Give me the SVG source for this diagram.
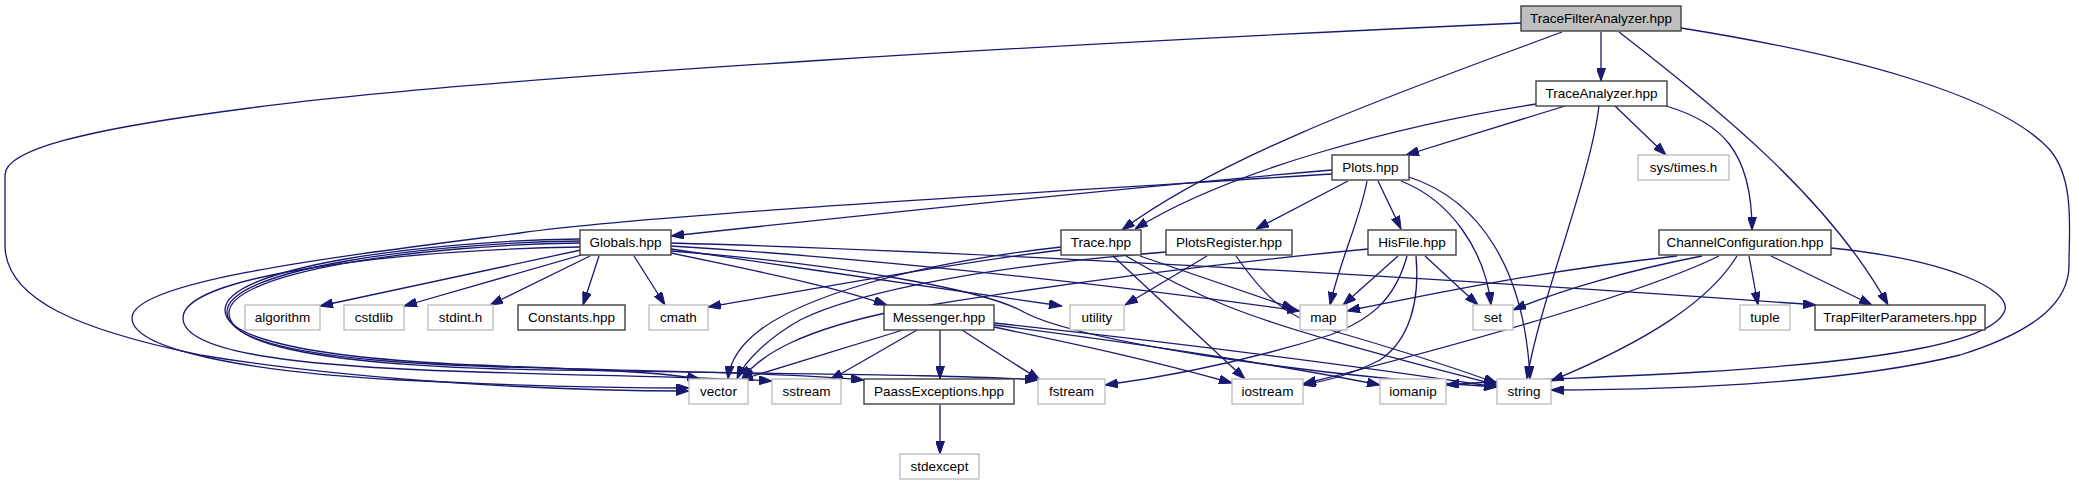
<svg xmlns="http://www.w3.org/2000/svg" width="2079" height="485" viewBox="0 0 2079 485">
<style>
.e{fill:none;stroke:#191970;stroke-width:1.3;marker-end:url(#ah)}
.d rect{fill:#fff;stroke:#404040;stroke-width:1.4}
.u rect{fill:#fff;stroke:#bfbfbf;stroke-width:1.4}
.r rect{fill:#bfbfbf;stroke:#404040;stroke-width:1.4}
text{font-family:"Liberation Sans",Arial,sans-serif;font-size:13.5px;fill:#000;text-anchor:middle}
</style>
<defs>
<marker id="ah" viewBox="0 0 13 9" refX="13" refY="4.5" markerWidth="13" markerHeight="9" markerUnits="userSpaceOnUse" orient="auto">
<path d="M0,0 L13,4.5 L0,9 z" fill="#191970" stroke="#191970" stroke-width="1"/>
</marker>
</defs>
<rect width="2079" height="485" fill="#fff"/>
<g id="edges">
<path class="e" d="M1601,32 L1601,81"/>
<path class="e" d="M1562,32 C1420,85 1230,150 1122,230"/>
<path class="e" d="M1619,32 C1720,110 1830,200 1888,305"/>
<path class="e" d="M1681,28 C1850,55 2000,95 2050,150 C2075,180 2069,230 2069,265 C2069,300 2040,330 1960,355 C1860,380 1700,390 1551,390"/>
<path class="e" d="M1521,23 C1100,42 500,75 250,108 C80,130 5,150 5,175 L5,245 C5,300 80,330 200,355 C350,380 550,391 689,391"/>
<path class="e" d="M1565,106 L1406,155"/>
<path class="e" d="M1536,104 C1400,125 1230,170 1135,229"/>
<path class="e" d="M1599,106 C1590,180 1540,300 1527,379"/>
<path class="e" d="M1615,106 L1666,155"/>
<path class="e" d="M1666,106 C1720,122 1752,150 1752,230"/>
<path class="e" d="M1332,170 C1100,190 800,222 671,236"/>
<path class="e" d="M1332,174 C1000,195 650,215 520,233 C350,255 132,280 132,318 C132,350 250,372 400,380 C500,385 600,388 689,388"/>
<path class="e" d="M1348,181 L1256,229"/>
<path class="e" d="M1378,181 L1401,229"/>
<path class="e" d="M1367,181 C1360,220 1340,260 1330,305"/>
<path class="e" d="M1401,181 C1450,200 1485,250 1491,305"/>
<path class="e" d="M1409,177 C1480,200 1525,270 1530,379"/>
<path class="e" d="M581,250 L320,306"/>
<path class="e" d="M585,254 L404,306"/>
<path class="e" d="M590,256 L490,305"/>
<path class="e" d="M599,256 L583,305"/>
<path class="e" d="M634,256 L665,305"/>
<path class="e" d="M671,253 C750,270 830,285 887,305"/>
<path class="e" d="M671,249 C800,268 950,290 1062,306"/>
<path class="e" d="M671,246 C900,260 1150,290 1300,311"/>
<path class="e" d="M671,243 C1000,252 1500,282 1816,305"/>
<path class="e" d="M671,251 C850,265 980,290 1020,310 C1070,340 1300,375 1497,387"/>
<path class="e" d="M580,247 C400,250 183,275 183,318 C183,350 280,365 450,371 C600,376 700,377 772,381"/>
<path class="e" d="M580,241 C420,243 227,270 227,312 C227,345 330,362 500,367 C700,372 800,374 864,380"/>
<path class="e" d="M580,243 C420,245 229,272 229,313 C229,346 330,364 500,369 C750,374 950,374 1038,380"/>
<path class="e" d="M580,239 C420,241 225,268 225,310 C225,342 330,360 500,366 C600,370 660,372 700,379"/>
<path class="e" d="M1061,250 C960,262 820,288 708,307"/>
<path class="e" d="M1061,247 C900,265 800,300 760,330 C740,345 730,360 728,379"/>
<path class="e" d="M1140,256 L1295,309"/>
<path class="e" d="M1113,256 L1245,379"/>
<path class="e" d="M1126,256 C1200,300 1260,320 1330,340 C1400,360 1460,375 1497,385"/>
<path class="e" d="M1207,256 L1125,305"/>
<path class="e" d="M1236,256 C1260,290 1280,315 1330,330 C1400,350 1460,370 1497,383"/>
<path class="e" d="M1166,252 C1000,265 860,290 800,320 C770,337 745,360 737,379"/>
<path class="e" d="M1398,256 L1343,305"/>
<path class="e" d="M1425,256 L1478,305"/>
<path class="e" d="M1368,249 C1200,265 1050,285 900,310 C800,330 760,355 742,379"/>
<path class="e" d="M1407,256 C1395,300 1370,320 1330,335 C1250,360 1180,375 1105,385"/>
<path class="e" d="M1416,256 C1420,300 1410,340 1380,360 C1350,375 1330,380 1303,385"/>
<path class="e" d="M903,330 L740,380"/>
<path class="e" d="M917,330 L830,380"/>
<path class="e" d="M940,330 L940,379"/>
<path class="e" d="M962,330 L1040,380"/>
<path class="e" d="M994,327 C1080,345 1150,360 1232,383"/>
<path class="e" d="M994,325 C1150,345 1280,365 1380,385"/>
<path class="e" d="M994,323 C1150,340 1350,365 1497,387"/>
<path class="e" d="M1677,256 C1550,270 1450,290 1347,311"/>
<path class="e" d="M1702,256 C1630,270 1560,290 1513,310"/>
<path class="e" d="M1719,256 C1650,290 1480,340 1303,384"/>
<path class="e" d="M1737,256 C1710,300 1650,340 1551,381"/>
<path class="e" d="M1749,256 L1758,305"/>
<path class="e" d="M1771,256 L1872,305"/>
<path class="e" d="M1831,248 C1950,260 2010,290 2005,310 C1995,340 1900,360 1700,372 C1600,378 1500,380 1446,385"/>
<path class="e" d="M940,405 L940,454"/>
</g>
<g id="node-tfa" class="r"><rect x="1521" y="6" width="160" height="25"/><text x="1601" y="23">TraceFilterAnalyzer.hpp</text></g>
<g id="node-ta" class="d"><rect x="1536" y="81" width="131" height="25"/><text x="1601.5" y="98">TraceAnalyzer.hpp</text></g>
<g id="node-plots" class="d"><rect x="1332" y="155" width="77" height="25"/><text x="1370.5" y="172">Plots.hpp</text></g>
<g id="node-systimes" class="u"><rect x="1638" y="155" width="91" height="25"/><text x="1683.5" y="172">sys/times.h</text></g>
<g id="node-globals" class="d"><rect x="580" y="230" width="91" height="25"/><text x="625.5" y="247">Globals.hpp</text></g>
<g id="node-trace" class="d"><rect x="1061" y="230" width="80" height="25"/><text x="1101" y="247">Trace.hpp</text></g>
<g id="node-plotsregister" class="d"><rect x="1166" y="230" width="126" height="25"/><text x="1229" y="247">PlotsRegister.hpp</text></g>
<g id="node-hisfile" class="d"><rect x="1368" y="230" width="88" height="25"/><text x="1412" y="247">HisFile.hpp</text></g>
<g id="node-channelconfiguration" class="d"><rect x="1659" y="230" width="172" height="25"/><text x="1745" y="247">ChannelConfiguration.hpp</text></g>
<g id="node-algorithm" class="u"><rect x="245" y="305" width="75" height="25"/><text x="282.5" y="322">algorithm</text></g>
<g id="node-cstdlib" class="u"><rect x="344" y="305" width="60" height="25"/><text x="374" y="322">cstdlib</text></g>
<g id="node-stdint" class="u"><rect x="428" y="305" width="65" height="25"/><text x="460.5" y="322">stdint.h</text></g>
<g id="node-constants" class="d"><rect x="518" y="305" width="107" height="25"/><text x="571.5" y="322">Constants.hpp</text></g>
<g id="node-cmath" class="u"><rect x="649" y="305" width="59" height="25"/><text x="678.5" y="322">cmath</text></g>
<g id="node-messenger" class="d"><rect x="884" y="305" width="110" height="25"/><text x="939" y="322">Messenger.hpp</text></g>
<g id="node-utility" class="u"><rect x="1070" y="305" width="54" height="25"/><text x="1097" y="322">utility</text></g>
<g id="node-map" class="u"><rect x="1300" y="305" width="47" height="25"/><text x="1323.5" y="322">map</text></g>
<g id="node-set" class="u"><rect x="1473" y="305" width="40" height="25"/><text x="1493" y="322">set</text></g>
<g id="node-tuple" class="u"><rect x="1740" y="305" width="50" height="25"/><text x="1765" y="322">tuple</text></g>
<g id="node-trapfilterparameters" class="d"><rect x="1815" y="305" width="170" height="25"/><text x="1900" y="322">TrapFilterParameters.hpp</text></g>
<g id="node-vector" class="u"><rect x="689" y="379" width="59" height="25"/><text x="718.5" y="396">vector</text></g>
<g id="node-sstream" class="u"><rect x="772" y="379" width="69" height="25"/><text x="806.5" y="396">sstream</text></g>
<g id="node-paassexceptions" class="d"><rect x="864" y="379" width="150" height="25"/><text x="939" y="396">PaassExceptions.hpp</text></g>
<g id="node-fstream" class="u"><rect x="1038" y="379" width="67" height="25"/><text x="1071.5" y="396">fstream</text></g>
<g id="node-iostream" class="u"><rect x="1232" y="379" width="71" height="25"/><text x="1267.5" y="396">iostream</text></g>
<g id="node-iomanip" class="u"><rect x="1380" y="379" width="66" height="25"/><text x="1413" y="396">iomanip</text></g>
<g id="node-string" class="u"><rect x="1497" y="379" width="54" height="25"/><text x="1524" y="396">string</text></g>
<g id="node-stdexcept" class="u"><rect x="900" y="454" width="79" height="25"/><text x="939.5" y="471">stdexcept</text></g>
</svg>
